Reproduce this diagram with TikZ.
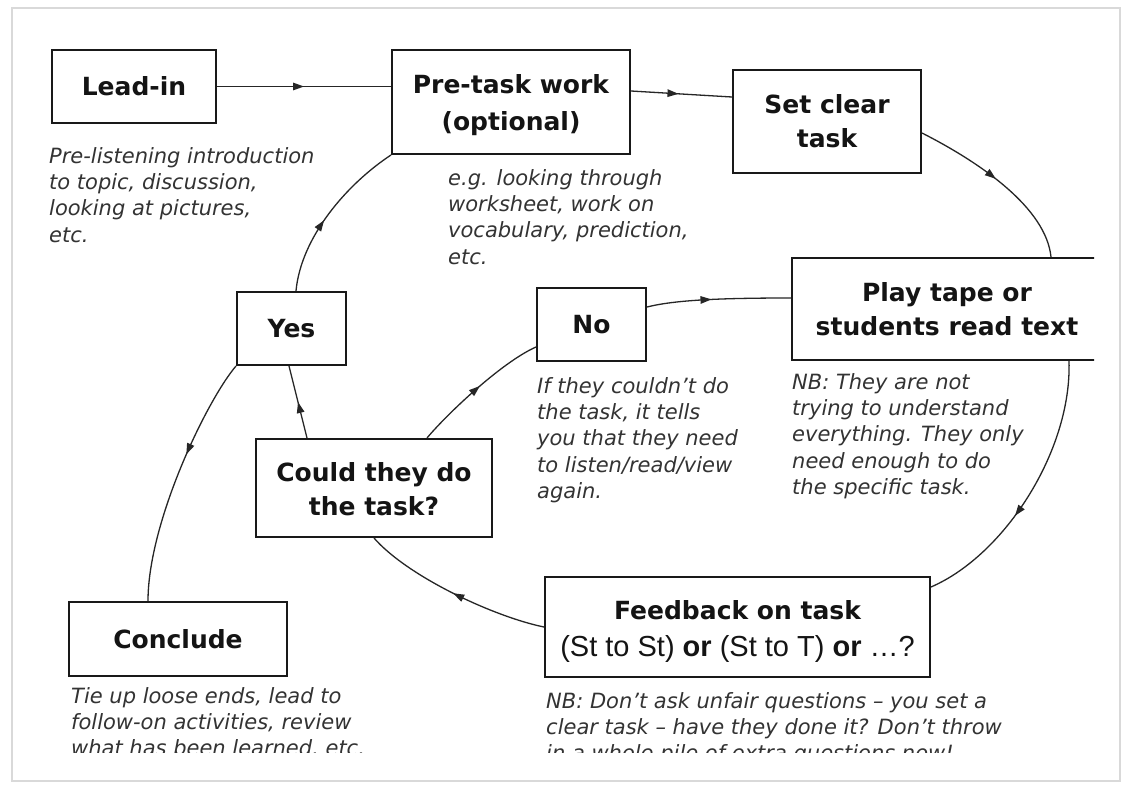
\documentclass[tikz,border=0pt]{standalone}
\usepackage{fontspec}
\setmainfont{DejaVu Sans}
\newfontfamily\capfont{Liberation Sans}
\usetikzlibrary{arrows.meta,decorations.markings}
\tikzset{
  x=1pt, y=-1pt,
  stepbox/.style={draw=black!90, line width=2pt, inner sep=0pt, align=center,
    text=black!92, font=\fontsize{25}{34}\selectfont\bfseries},
  note/.style={anchor=north west, inner sep=0pt, align=left, text=black!80,
    font=\fontsize{21}{26.3}\selectfont\itshape},
  link/.style={line width=1.3pt, draw=black!85},
  midarrow/.style={link, postaction={decorate}, decoration={markings,
    mark=at position #1 with {\arrow{Triangle[length=11pt,width=7.5pt]}}}}
}
\begin{document}
\begin{tikzpicture}
\useasboundingbox (0,0) rectangle (1130,787);
\fill[white] (0,0) rectangle (1130,787);
\draw[gray!30, line width=2.5pt] (12,8) rectangle (1120,781);
\begin{scope}
\clip (49,14) rectangle (1094,752);
% boxes
\node[stepbox, minimum width=164, minimum height=73] (leadin) at (134,86.5) {Lead-in};
\node[stepbox, minimum width=238, minimum height=104, font=\fontsize{25}{37}\selectfont\bfseries] (pretask) at (511,102) {\rule{0pt}{26pt}Pre-task work\\(optional)};
\node[stepbox, minimum width=188, minimum height=103] (setclear) at (827,121.5) {Set clear\\task};
\node[stepbox, minimum width=310, minimum height=102] (play) at (947,309) {Play tape or\\students read text};
\node[stepbox, minimum width=109, minimum height=73] (no) at (591.5,324.5) {No};
\node[stepbox, minimum width=109, minimum height=73] (yes) at (291.5,328.5) {Yes};
\node[stepbox, minimum width=236, minimum height=98] (could) at (374,488) {\rule{0pt}{21pt}Could they do\\the task?};
\node[stepbox, minimum width=218, minimum height=74] (conclude) at (178,639) {Conclude};
\node[stepbox, minimum width=385, minimum height=100, font=\fontsize{25}{37}\selectfont\bfseries] (feedback) at (737.5,627)
  {\rule{0pt}{27pt}Feedback on task\\{\capfont\mdseries\fontsize{29}{37}\selectfont (St to St) \bfseries or\mdseries\ (St to T) \bfseries or\mdseries\ \dots?}};
% captions
\node[note] (capleadin) at (49,147) {Pre-listening introduction\\to topic, discussion,\\looking at pictures,\\etc.};
\node[note] (cappretask) at (448,169) {e.g. looking through\\worksheet, work on\\vocabulary, prediction,\\etc.};
\node[note] (capno) at (537,377) {If they couldn’t do\\the task, it tells\\you that they need\\to listen/read/view\\again.};
\node[note] (capplay) at (792,373) {NB: They are not\\trying to understand\\everything. They only\\need enough to do\\the specific task.};
\node[note] (capconclude) at (71,687) {Tie up loose ends, lead to\\follow-on activities, review\\what has been learned, etc.};
\node[note] (capfeedback) at (546,692) {NB: Don’t ask unfair questions – you set a\\clear task – have they done it? Don’t throw\\in a whole pile of extra questions now!};
% connectors
\draw[midarrow=0.5] (leadin.east) -- (pretask.west |- leadin.east);
\draw[midarrow=0.47] ([yshift=11pt]pretask.east) -- ([yshift=24.5pt]setclear.west);
\draw[midarrow=0.47] ([yshift=-11.5pt]setclear.east) .. controls (981,163) and (1046,208) .. (play.north -| 1051,0);
\draw[midarrow=0.6] (play.south -| 1069,0) .. controls (1072,450) and (1005,555) .. ([yshift=40pt]feedback.east);
\draw[midarrow=0.5] ([yshift=0pt]feedback.west) .. controls (495,617) and (408,577) .. (could.south);
\draw[midarrow=0.5] (could.north -| 307,0) -- (yes.south -| 289,0);
\draw[midarrow=0.52] (could.north -| 427,0) .. controls (447,414) and (502,362) .. ([yshift=-22.5pt]no.west);
\draw[midarrow=0.45] ([yshift=17.5pt]no.east) .. controls (675,300) and (720,298) .. ([yshift=11pt]play.west);
\draw[midarrow=0.4] (yes.south west) .. controls (207,400) and (148,522) .. (conclude.north -| 148,0);
\draw[midarrow=0.45] (yes.north -| 296,0) .. controls (301,237) and (347,184) .. (pretask.south west);
\end{scope}
\end{tikzpicture}
\end{document}
